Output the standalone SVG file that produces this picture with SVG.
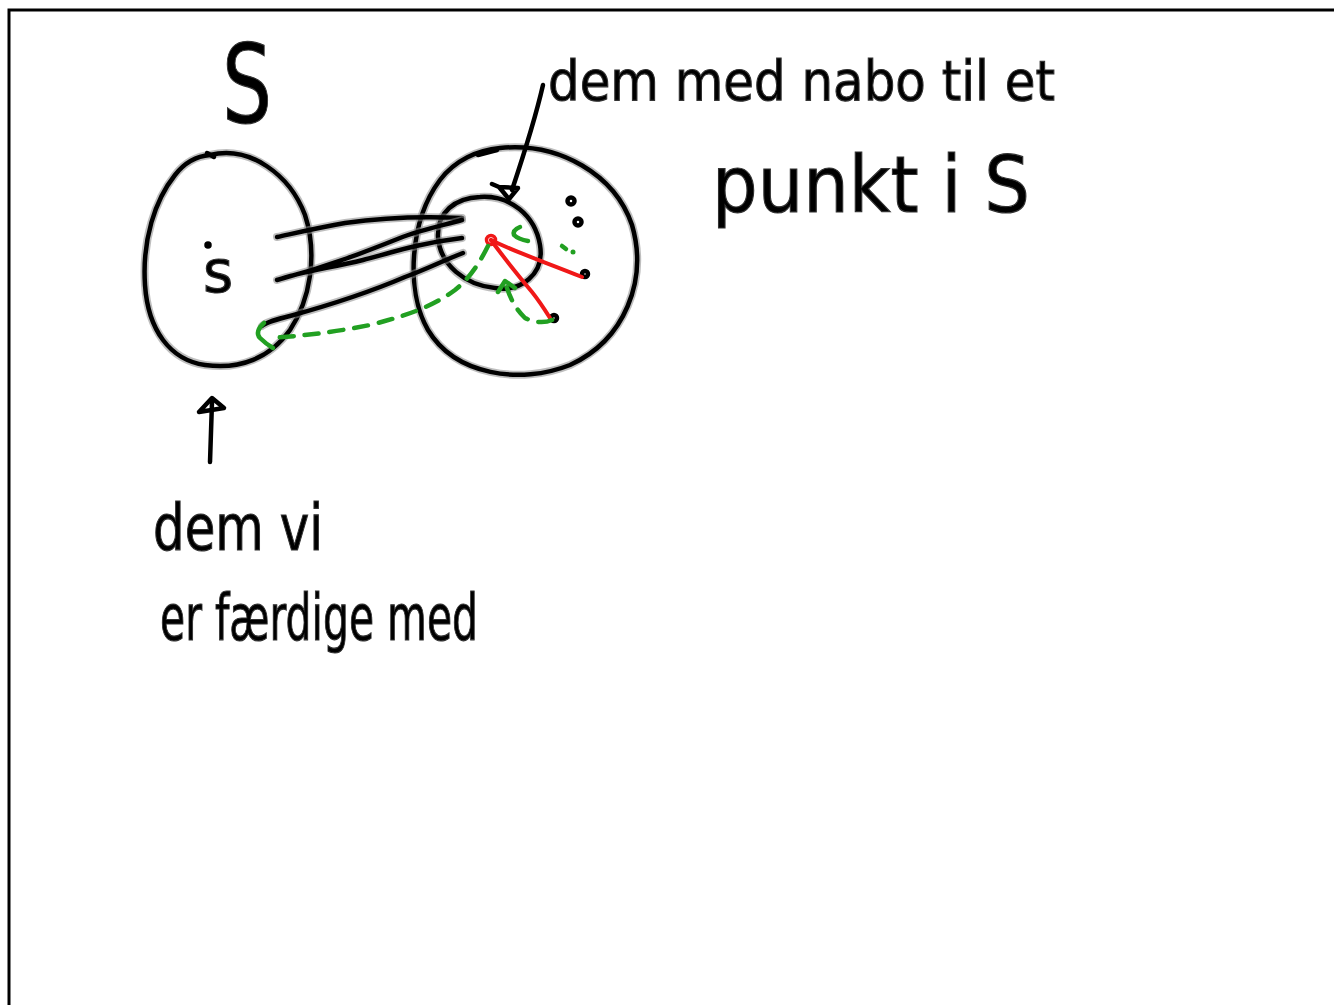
<svg xmlns="http://www.w3.org/2000/svg" width="1334" height="1005" viewBox="0 0 1334 1005">
<style>
.ink{fill:none;stroke:#000;stroke-width:4.5;stroke-linecap:round;stroke-linejoin:round}
.halo{fill:none;stroke:#888;stroke-width:8;stroke-linecap:round;stroke-linejoin:round;opacity:.55}
.red{fill:none;stroke:#f01818;stroke-width:4;stroke-linecap:round;stroke-linejoin:round}
.grn{fill:none;stroke:#22a022;stroke-width:4.5;stroke-linecap:round;stroke-linejoin:round}
.dash{stroke-dasharray:14 11}
.hw{font-family:"DejaVu Sans","Liberation Sans",sans-serif;fill:#000;stroke:#333;stroke-width:1.2}
</style>
<rect x="0" y="0" width="1334" height="1005" fill="#fff"/>
<path d="M9,1005 V10 H1334" fill="none" stroke="#000" stroke-width="3"/>

<g id="set-S">
<path class="halo" d="M210,155 C250,145 290,175 305,215 C318,255 310,300 290,330 C270,358 240,370 205,365 C170,360 148,330 145,285 C142,240 155,200 175,175 C185,162 198,156 210,155 Z"/>
<path class="ink" d="M210,155 C250,145 290,175 305,215 C318,255 310,300 290,330 C270,358 240,370 205,365 C170,360 148,330 145,285 C142,240 155,200 175,175 C185,162 198,156 210,155 Z"/>
<path class="ink" d="M207,153 L214,157"/>
</g>

<g id="point-s">
<circle cx="208" cy="245" r="2.5" fill="#000" stroke="#000" stroke-width="2.5"/>
<text class="hw" x="203" y="292" font-size="58">s</text>
</g>

<g id="set-outer">
<path class="halo" d="M500,148 C560,142 615,175 632,225 C648,280 625,340 570,365 C520,385 455,375 428,330 C405,290 410,220 440,180 C455,160 478,150 500,148 Z"/>
<path class="ink" d="M500,148 C560,142 615,175 632,225 C648,280 625,340 570,365 C520,385 455,375 428,330 C405,290 410,220 440,180 C455,160 478,150 500,148 Z"/>
<path class="ink" d="M478,155 L497,150"/>
</g>

<g id="set-inner">
<path class="halo" d="M480,197 C510,195 535,215 540,245 C545,275 520,292 495,288 C465,285 440,265 438,237 C437,212 455,198 480,197 Z"/>
<path class="ink" d="M480,197 C510,195 535,215 540,245 C545,275 520,292 495,288 C465,285 440,265 438,237 C437,212 455,198 480,197 Z"/>
</g>

<g id="points">
<circle cx="571" cy="201" r="3.5" class="ink" stroke-width="3"/>
<circle cx="578" cy="222" r="3.5" class="ink" stroke-width="3"/>
<circle cx="585" cy="274" r="3" class="ink" stroke-width="3"/>
<circle cx="554" cy="318" r="3" class="ink" stroke-width="3"/>
<circle cx="573" cy="252" r="2.5" fill="#22a022"/>
<circle cx="491" cy="240" r="4.5" fill="none" stroke="#f01818" stroke-width="3.5"/>
</g>

<g id="connectors">
<path class="halo" d="M277,237 C300,232 317,228 345,223 C380,218 420,216 462,218"/>
<path class="ink" d="M277,237 C300,232 317,228 345,223 C380,218 420,216 462,218"/>
<path class="halo" d="M462,220 C440,226 420,230 400,238 C370,250 330,266 277,280 C300,272 330,268 363,260 C390,253 420,243 462,238"/>
<path class="ink" d="M462,220 C440,226 420,230 400,238 C370,250 330,266 277,280 C300,272 330,268 363,260 C390,253 420,243 462,238"/>
<path class="halo" d="M463,253 C440,262 425,270 405,277 C370,292 330,305 290,316 C275,320 266,322 262,326"/>
<path class="ink" d="M463,253 C440,262 425,270 405,277 C370,292 330,305 290,316 C275,320 266,322 262,326"/>

<path class="ink" d="M543,85 C535,120 522,160 512,190"/>
<path class="ink" d="M499,187 L518,188 L509,199 Z M499,187 L492,184"/>

<path class="ink" d="M210,462 L212,402"/>
<path class="ink" d="M199,412 L212,398 L224,408 Z"/>

<path class="red" d="M491,240 C515,252 545,262 582,277"/>
<path class="red" d="M491,240 C507,262 522,280 532,292 C540,302 545,310 550,318"/>

<path class="grn dash" d="M488,246 C480,262 470,278 455,290 C435,305 410,315 370,325 C330,333 300,336 270,338"/>
<path class="grn" d="M264,323 C258,328 256,334 260,338 C264,342 268,345 273,348"/>
<path class="grn" d="M520,227 C515,229 513,232 514,235 C517,238 522,240 528,241"/>
<path class="grn dash" d="M552,320 C545,323 535,323 525,318 C515,308 510,298 506,285"/>
<path class="grn" d="M498,292 L505,281 L515,288"/>
<path class="grn" d="M562,246 L566,249"/>
</g>

<g id="labels">
<text class="hw" x="222" y="122" font-size="108" textLength="50" lengthAdjust="spacingAndGlyphs">S</text>
<text class="hw" x="548" y="100" font-size="56" textLength="507" lengthAdjust="spacingAndGlyphs">dem med nabo til et</text>
<text class="hw" x="712" y="212" font-size="78" textLength="318" lengthAdjust="spacingAndGlyphs">punkt i S</text>
<text class="hw" x="153" y="550" font-size="64" textLength="170" lengthAdjust="spacingAndGlyphs">dem vi</text>
<text class="hw" x="160" y="640" font-size="64" textLength="318" lengthAdjust="spacingAndGlyphs">er færdige med</text>
</g>
</svg>
